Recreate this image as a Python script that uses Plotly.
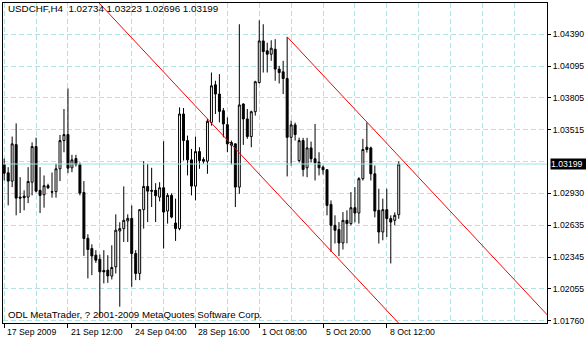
import plotly.graph_objects as go

# ---- data (USDCHF H4, bar index 0..99) ----
opens = [
    1.03194, 1.03118, 1.03042, 1.03377, 1.02895, 1.02904, 1.02895, 1.03032, 1.03359, 1.02957,
    1.02917, 1.03000, 1.02945, 1.02945, 1.03155, 1.03414, 1.03469, 1.03164, 1.03249, 1.03194,
    1.02938, 1.02517, 1.02423, 1.02362, 1.02325, 1.02222, 1.02225, 1.02170, 1.02255, 1.02584,
    1.02606, 1.02676, 1.02700, 1.02377, 1.02194, 1.02780, 1.02993, 1.02957, 1.02957, 1.02895,
    1.02981, 1.02767, 1.02911, 1.02657, 1.02606, 1.03658, 1.03414, 1.03237, 1.02996, 1.03313,
    1.03240, 1.03225, 1.03581, 1.03926, 1.03841, 1.03689, 1.03560, 1.03396, 1.03384, 1.02987,
    1.03750, 1.03613, 1.03451, 1.03679, 1.03947, 1.04329, 1.04238, 1.04207, 1.04253, 1.04070,
    1.04045, 1.03984, 1.03444, 1.03558, 1.03231, 1.03414, 1.03164, 1.03347, 1.03247, 1.03215,
    1.03170, 1.03146, 1.02828, 1.02636, 1.02597, 1.02474, 1.02682, 1.02652, 1.02798, 1.02749,
    1.03064, 1.03353, 1.03347, 1.03109, 1.02774, 1.02575, 1.02780, 1.02698, 1.02682, 1.02734,
]
highs = [
    1.03249, 1.03170, 1.03451, 1.03572, 1.03078, 1.02957, 1.03170, 1.03398, 1.03441, 1.03170,
    1.03094, 1.03018, 1.03121, 1.03201, 1.03466, 1.03704, 1.03893, 1.03283, 1.03283, 1.03213,
    1.03042, 1.02554, 1.02462, 1.02408, 1.02368, 1.02408, 1.02362, 1.02453, 1.02737, 1.02664,
    1.02993, 1.02737, 1.02819, 1.02408, 1.02783, 1.03225, 1.03201, 1.03164, 1.03023, 1.03032,
    1.03408, 1.02932, 1.02929, 1.02881, 1.03719, 1.03713, 1.03460, 1.03338, 1.03451, 1.03353,
    1.03261, 1.03613, 1.04039, 1.03963, 1.04024, 1.03713, 1.03627, 1.03414, 1.03387, 1.04482,
    1.03755, 1.03704, 1.03689, 1.03963, 1.04518, 1.04482, 1.04313, 1.04335, 1.04345, 1.04100,
    1.04146, 1.04366, 1.03597, 1.03579, 1.03441, 1.03439, 1.03439, 1.03405, 1.03567, 1.03307,
    1.03185, 1.03149, 1.02865, 1.02728, 1.02666, 1.02758, 1.02774, 1.02941, 1.02987, 1.03078,
    1.03430, 1.03581, 1.03359, 1.03185, 1.02972, 1.02881, 1.02972, 1.02728, 1.02755, 1.03223,
]
lows = [
    1.03048, 1.02819, 1.02987, 1.02728, 1.02749, 1.02774, 1.02840, 1.02911, 1.02938, 1.02749,
    1.02798, 1.02968, 1.02890, 1.02890, 1.03042, 1.03307, 1.03115, 1.03124, 1.03176, 1.02911,
    1.02355, 1.02149, 1.02179, 1.02291, 1.01797, 1.02103, 1.02108, 1.02139, 1.02194, 1.01889,
    1.02483, 1.02483, 1.02072, 1.02133, 1.02133, 1.02606, 1.02666, 1.02804, 1.02666, 1.02856,
    1.02423, 1.02652, 1.02700, 1.02493, 1.02591, 1.03231, 1.03094, 1.02911, 1.02865, 1.03155,
    1.03201, 1.03109, 1.03551, 1.03658, 1.03581, 1.03444, 1.03307, 1.03194, 1.02804, 1.02926,
    1.03375, 1.03430, 1.03353, 1.03643, 1.03938, 1.04039, 1.04039, 1.04146, 1.03963, 1.03938,
    1.03841, 1.03085, 1.03185, 1.03414, 1.03213, 1.03085, 1.03078, 1.03213, 1.03048, 1.03094,
    1.03103, 1.02728, 1.02392, 1.02469, 1.02353, 1.02414, 1.02471, 1.02636, 1.02664, 1.02652,
    1.03048, 1.03304, 1.03048, 1.02709, 1.02469, 1.02499, 1.02529, 1.02286, 1.02636, 1.02696,
]
closes = [
    1.03115, 1.03042, 1.03384, 1.02886, 1.02886, 1.02890, 1.03039, 1.03359, 1.02950, 1.02911,
    1.03000, 1.02981, 1.02941, 1.03155, 1.03414, 1.03469, 1.03161, 1.03237, 1.03194, 1.02932,
    1.02515, 1.02414, 1.02355, 1.02316, 1.02209, 1.02209, 1.02172, 1.02249, 1.02591, 1.02606,
    1.02682, 1.02700, 1.02377, 1.02194, 1.02780, 1.02993, 1.02950, 1.02950, 1.02908, 1.02981,
    1.02758, 1.02911, 1.02712, 1.02606, 1.03658, 1.03414, 1.03237, 1.02996, 1.03313, 1.03231,
    1.03225, 1.03591, 1.03917, 1.03841, 1.03682, 1.03567, 1.03384, 1.03373, 1.02987, 1.03741,
    1.03613, 1.03451, 1.03679, 1.03954, 1.04329, 1.04231, 1.04207, 1.04262, 1.04070, 1.04039,
    1.03984, 1.03444, 1.03558, 1.03469, 1.03414, 1.03149, 1.03347, 1.03247, 1.03210, 1.03164,
    1.03146, 1.02819, 1.02636, 1.02591, 1.02474, 1.02682, 1.02652, 1.02798, 1.02749, 1.03064,
    1.03332, 1.03332, 1.03109, 1.02767, 1.02575, 1.02780, 1.02698, 1.02666, 1.02728, 1.03199,
]
bars = list(range(len(opens)))

# time-axis labels (bar index -> label)
time_tick_bars = [0, 16, 32, 48, 64, 80, 96]
time_tick_labels = ["17 Sep 2009", "21 Sep 12:00", "24 Sep 04:00", "28 Sep 16:00",
                    "1 Oct 08:00", "5 Oct 20:00", "8 Oct 12:00"]
grid_bars_minor = [8, 24, 40, 56, 72, 88, 104, 112, 120, 128, 136]

# price-axis labels
price_ticks = [1.04390, 1.04095, 1.03805, 1.03515, 1.02930, 1.02635, 1.02345, 1.02055, 1.01760]
price_tick_labels = ["1.04390", "1.04095", "1.03805", "1.03515", "1.02930",
                     "1.02635", "1.02345", "1.02055", "1.01760"]
price_grid_minor = [1.03222]

# channel lines
upper_x = [71, 137]
upper_y = [1.04366, 1.01785]
lower_x = [0, 137]
lower_y = [1.05608, 1.00251]

symbol = "USDCHF,H4"
last_price = 1.03199

x_range = [-0.3, 136.2]
y_range = [1.017395, 1.04677]

FONT = "Liberation Sans, Arial, sans-serif"
GRID = "#B0E4E4"

fig = go.Figure()

fig.add_trace(go.Scatter(x=x_range, y=[last_price, last_price], mode="lines",
                         line=dict(color="#9CE2E2", width=1), hoverinfo="skip",
                         showlegend=False))

fig.add_trace(go.Candlestick(
    x=bars, open=opens, high=highs, low=lows, close=closes,
    increasing=dict(fillcolor="white", line=dict(color="black", width=1)),
    decreasing=dict(fillcolor="black", line=dict(color="black", width=1)),
    whiskerwidth=0, showlegend=False, hoverinfo="skip"))

fig.add_trace(go.Scatter(x=upper_x, y=upper_y, mode="lines",
                         line=dict(color="red", width=1), hoverinfo="skip", showlegend=False))
fig.add_trace(go.Scatter(x=lower_x, y=lower_y, mode="lines",
                         line=dict(color="red", width=1), hoverinfo="skip", showlegend=False))

annotations = []
for b, lab in zip(time_tick_bars, time_tick_labels):
    annotations.append(dict(x=b, xref="x", y=-0.028, yref="paper", text=lab,
                            showarrow=False, xanchor="left", yanchor="middle",
                            xshift=1, font=dict(family=FONT, size=8.7, color="black")))

annotations.append(dict(x=0.005, xref="paper", y=0.983, yref="paper",
                        text=symbol + "\u00a0\u00a0" + " ".join(
                            f"{v:.5f}" for v in [opens[-1], highs[-1], lows[-1], closes[-1]]),
                        showarrow=False, xanchor="left", yanchor="middle",
                        font=dict(family=FONT, size=9.8, color="black")))
annotations.append(dict(x=0.005, xref="paper", y=0.028, yref="paper",
                        text="ODL MetaTrader, ? 2001-2009 MetaQuotes Software Corp.",
                        showarrow=False, xanchor="left", yanchor="middle",
                        font=dict(family=FONT, size=9.7, color="black")))
annotations.append(dict(x=1.0055, xref="paper", y=last_price, yref="y",
                        text=f"{last_price:.5f}", showarrow=False, xanchor="left",
                        yanchor="middle", bgcolor="black", borderpad=0, width=40, align="left",
                        font=dict(family=FONT, size=8.7, color="white")))

fig.update_layout(
    width=586, height=340,
    margin=dict(l=2, r=38, t=2, b=17),
    paper_bgcolor="white", plot_bgcolor="white",
    showlegend=False, hovermode=False,
    annotations=annotations,
    xaxis=dict(range=x_range, rangeslider=dict(visible=False),
               tickvals=time_tick_bars, showticklabels=False,
               ticks="outside", ticklen=4, tickcolor="black", tickwidth=1,
               showgrid=True, gridcolor=GRID, griddash="5px,3px", gridwidth=1,
               minor=dict(tickvals=grid_bars_minor, showgrid=True, gridcolor=GRID,
                          griddash="5px,3px", gridwidth=1, ticks=""),
               showline=True, linecolor="black", linewidth=1, mirror=True,
               zeroline=False, fixedrange=True),
    yaxis=dict(range=y_range, side="right",
               tickvals=price_ticks, ticktext=price_tick_labels,
               tickfont=dict(family=FONT, size=8.7, color="black"),
               ticks="outside", ticklen=3, tickcolor="black", tickwidth=1,
               showgrid=True, gridcolor=GRID, griddash="5px,3px", gridwidth=1,
               minor=dict(tickvals=price_grid_minor, showgrid=True, gridcolor=GRID,
                          griddash="5px,3px", gridwidth=1, ticks=""),
               showline=True, linecolor="black", linewidth=1, mirror=True,
               zeroline=False, fixedrange=True),
)

fig.write_html("out.html", config={"displayModeBar": False, "staticPlot": True})
